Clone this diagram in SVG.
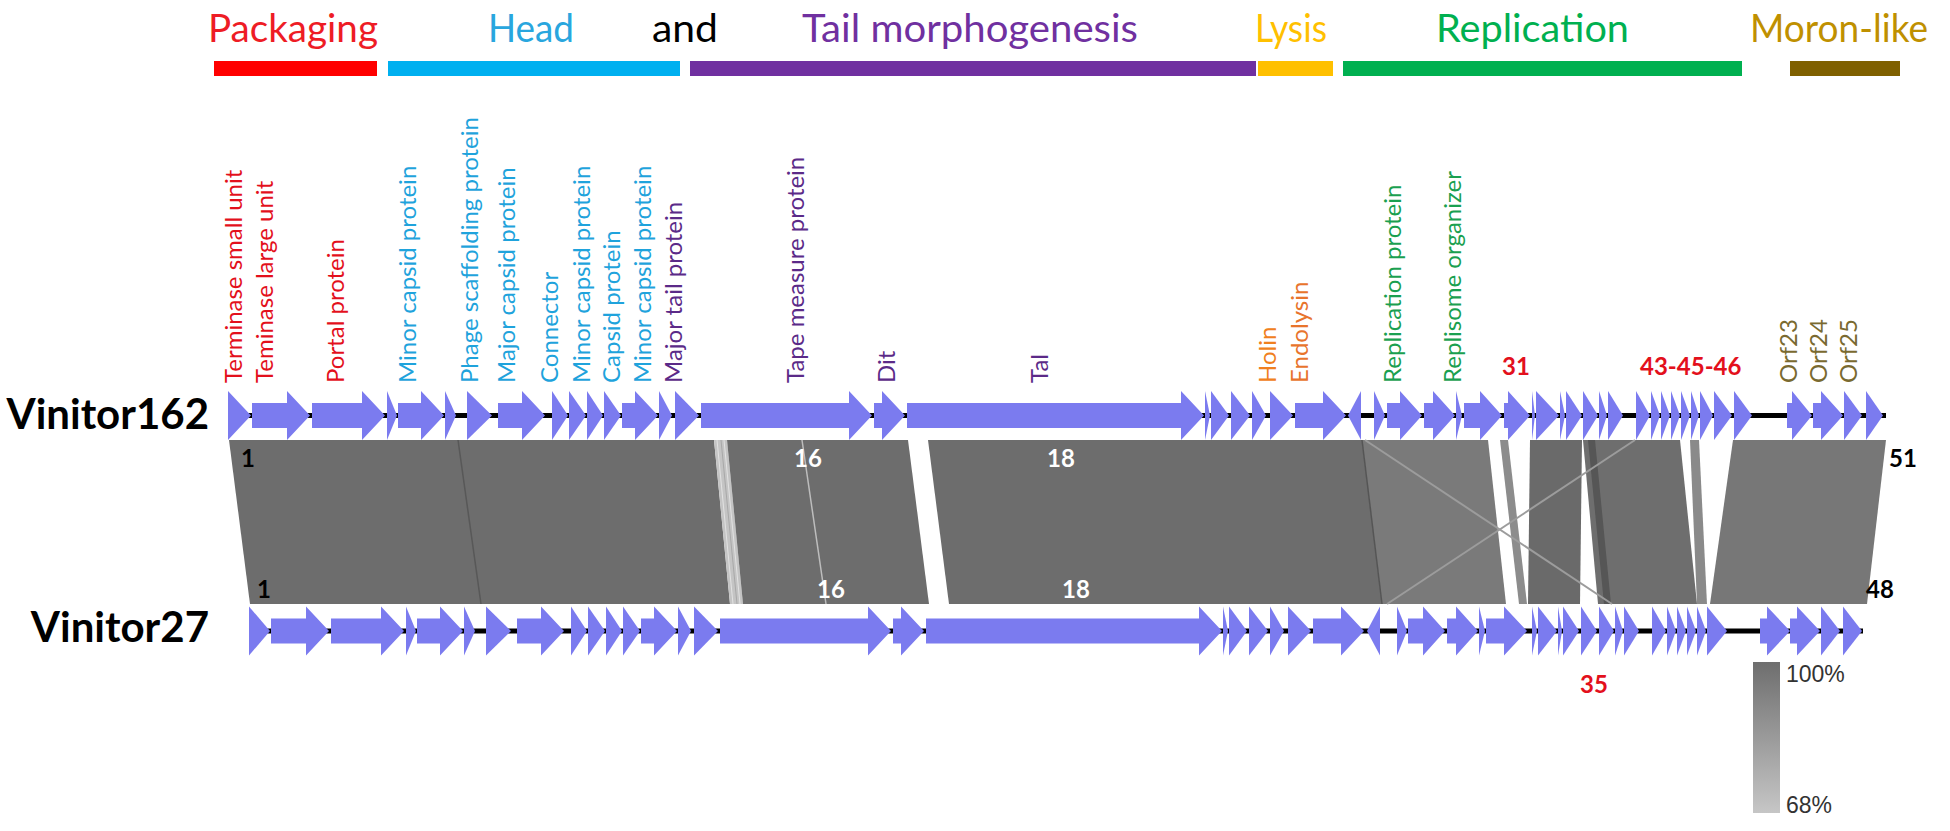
<svg xmlns="http://www.w3.org/2000/svg" width="1950" height="831" viewBox="0 0 1950 831">
<defs>
<style>
.hd{font-family:Lato,"Open Sans",sans-serif;font-size:39px}
.lb{font-family:Lato,"Open Sans",sans-serif;font-size:24px}
.nm{font-family:Lato,"Open Sans",sans-serif;font-size:42px;font-weight:bold;fill:#000}
.num{font-family:Lato,"Open Sans",sans-serif;font-size:24px;font-weight:bold}
.red{fill:#e3101c}
.g{fill:#7b7bef}
.bb{stroke:#000;stroke-width:5}
.blk{fill:#6d6d6d}
.leg{font-family:"Liberation Sans",Arial,sans-serif;font-size:23px;fill:#333}
</style>
<linearGradient id="lg" x1="0" y1="0" x2="0" y2="1">
<stop offset="0" stop-color="#6e6e6e"/>
<stop offset="1" stop-color="#c6c6c6"/>
</linearGradient>
</defs>
<rect width="1950" height="831" fill="#fff"/>

<g id="header">
<text class="hd" x="208" y="42" textLength="170" lengthAdjust="spacingAndGlyphs" fill="#ee1c25">Packaging</text>
<text class="hd" x="488" y="42" textLength="86" lengthAdjust="spacingAndGlyphs" fill="#29a6de">Head</text>
<text class="hd" x="652" y="42" textLength="66" lengthAdjust="spacingAndGlyphs" fill="#000">and</text>
<text class="hd" x="802" y="42" textLength="336" lengthAdjust="spacingAndGlyphs" fill="#7030a0">Tail morphogenesis</text>
<text class="hd" x="1255" y="42" textLength="72" lengthAdjust="spacingAndGlyphs" fill="#ffc000">Lysis</text>
<text class="hd" x="1436" y="42" textLength="193" lengthAdjust="spacingAndGlyphs" fill="#00b050">Replication</text>
<text class="hd" x="1750" y="42" textLength="178" lengthAdjust="spacingAndGlyphs" fill="#bf9000">Moron-like</text>
<rect x="214" y="61" width="163" height="15" fill="#ff0000"/>
<rect x="388" y="61" width="292" height="15" fill="#00b0f0"/>
<rect x="690" y="61" width="566" height="15" fill="#7030a0"/>
<rect x="1258" y="61" width="75" height="15" fill="#ffc000"/>
<rect x="1343" y="61" width="399" height="15" fill="#00b050"/>
<rect x="1790" y="61" width="110" height="15" fill="#7f6000"/>
</g>

<g id="gene-labels" class="lb">
<text transform="translate(242,383) rotate(-90)" fill="#e3101c">Terminase small unit</text>
<text transform="translate(273,383) rotate(-90)" fill="#e3101c">Teminase large unit</text>
<text transform="translate(344,383) rotate(-90)" fill="#e3101c">Portal protein</text>
<text transform="translate(416,383) rotate(-90)" fill="#1fa3dc">Minor capsid protein</text>
<text transform="translate(478,383) rotate(-90)" fill="#1fa3dc">Phage scaffolding protein</text>
<text transform="translate(515,383) rotate(-90)" fill="#1fa3dc">Major capsid protein</text>
<text transform="translate(558,383) rotate(-90)" fill="#1fa3dc">Connector</text>
<text transform="translate(590,383) rotate(-90)" fill="#1fa3dc">Minor capsid protein</text>
<text transform="translate(620,383) rotate(-90)" fill="#1fa3dc">Capsid protein</text>
<text transform="translate(651,383) rotate(-90)" fill="#1fa3dc">Minor capsid protein</text>
<text transform="translate(682,383) rotate(-90)" fill="#5b2a88">Major tail protein</text>
<text transform="translate(804,383) rotate(-90)" fill="#5b2a88">Tape measure protein</text>
<text transform="translate(895,383) rotate(-90)" fill="#5b2a88">Dit</text>
<text transform="translate(1048,383) rotate(-90)" fill="#5b2a88">Tal</text>
<text transform="translate(1276,383) rotate(-90)" fill="#f08020">Holin</text>
<text transform="translate(1308,383) rotate(-90)" fill="#e8742c">Endolysin</text>
<text transform="translate(1401,383) rotate(-90)" fill="#1aa050">Replication protein</text>
<text transform="translate(1461,383) rotate(-90)" fill="#1aa050">Replisome organizer</text>
<text transform="translate(1797,383) rotate(-90)" fill="#7a6a30">Orf23</text>
<text transform="translate(1827,383) rotate(-90)" fill="#7a6a30">Orf24</text>
<text transform="translate(1857,383) rotate(-90)" fill="#7a6a30">Orf25</text>
<text class="num red" x="1502" y="375">31</text>
<text class="num red" x="1640" y="375">43-45-46</text>
<text class="num red" x="1580" y="693">35</text>
</g>

<g id="genome-names">
<text class="nm" x="209" y="429" text-anchor="end">Vinitor162</text>
<text class="nm" x="209" y="642" text-anchor="end">Vinitor27</text>
</g>

<g id="connectors">
<polygon class="blk" points="229,440 714,440 730,604 250,604"/>
<line x1="458" y1="440" x2="481" y2="604" stroke="#585858" stroke-width="1.5"/>
<polygon fill="#c4c4c4" points="714,440 727,440 743,604 730,604"/>
<line x1="717" y1="440" x2="733" y2="604" stroke="#e2e2e2" stroke-width="1"/>
<line x1="721" y1="440" x2="737" y2="604" stroke="#a8a8a8" stroke-width="1"/>
<line x1="724" y1="440" x2="740" y2="604" stroke="#e2e2e2" stroke-width="1"/>
<polygon class="blk" points="727,440 908,440 929,604 743,604"/>
<line x1="802" y1="440" x2="826" y2="604" stroke="#bdbdbd" stroke-width="1.5"/>
<polygon class="blk" points="928,440 1362,440 1382,604 949,604"/>
<polygon fill="#7a7a7a" points="1362,440 1488,440 1506,604 1382,604"/>
<line x1="1362" y1="440" x2="1382" y2="604" stroke="#555" stroke-width="1.5"/>
<polygon fill="#8c8c8c" points="1500,440 1508,440 1527,604 1519,604"/>
<polygon fill="#6a6a6a" points="1530,440 1582,440 1580,604 1528,604"/>
<polygon fill="#6e6e6e" points="1583,440 1680,440 1697,604 1598,604"/>
<polygon fill="#565656" points="1588,440 1595,440 1611,604 1604,604"/>
<polygon fill="#8a8a8a" points="1690,440 1699,440 1707,604 1697,604"/>
<polygon fill="#777" points="1733,440 1886,440 1867,604 1710,604"/>
<line x1="1365" y1="440" x2="1612" y2="604" stroke="#9c9c9c" stroke-width="2"/>
<line x1="1635" y1="440" x2="1387" y2="604" stroke="#9c9c9c" stroke-width="2"/>
<text class="num" x="241" y="467" fill="#000">1</text>
<text class="num" x="808" y="467" fill="#fff" text-anchor="middle">16</text>
<text class="num" x="1061" y="467" fill="#fff" text-anchor="middle">18</text>
<text class="num" x="1889" y="467" fill="#000">51</text>
<text class="num" x="257" y="598" fill="#000">1</text>
<text class="num" x="831" y="598" fill="#fff" text-anchor="middle">16</text>
<text class="num" x="1076" y="598" fill="#fff" text-anchor="middle">18</text>
<text class="num" x="1866" y="598" fill="#000">48</text>
</g>

<g id="Vinitor162-genes" transform="translate(0,415.5)">
<line class="bb" x1="228" y1="0" x2="1886" y2="0"/>
<polygon class="g" id="t1" points="228,-24.5 251,0 228,24.5"/>
<polygon class="g" id="t2" points="252,-12.5 287,-12.5 287,-24.5 310,0 287,24.5 287,12.5 252,12.5"/>
<polygon class="g" id="t3" points="312,-12.5 362,-12.5 362,-24.5 385,0 362,24.5 362,12.5 312,12.5"/>
<polygon class="g" id="t4" points="387,-24.5 397,0 387,24.5"/>
<polygon class="g" id="t5" points="398,-12.5 421,-12.5 421,-24.5 444,0 421,24.5 421,12.5 398,12.5"/>
<polygon class="g" id="t6" points="445,-24.5 456,0 445,24.5"/>
<polygon class="g" id="t7" points="467,-24.5 492,0 467,24.5"/>
<polygon class="g" id="t8" points="498,-12.5 522,-12.5 522,-24.5 545,0 522,24.5 522,12.5 498,12.5"/>
<polygon class="g" id="t9" points="552,-24.5 568,0 552,24.5"/>
<polygon class="g" id="t10" points="569,-24.5 586,0 569,24.5"/>
<polygon class="g" id="t11" points="587,-24.5 603,0 587,24.5"/>
<polygon class="g" id="t12" points="604,-24.5 621,0 604,24.5"/>
<polygon class="g" id="t13" points="622,-12.5 635,-12.5 635,-24.5 658,0 635,24.5 635,12.5 622,12.5"/>
<polygon class="g" id="t14" points="659,-24.5 672,0 659,24.5"/>
<polygon class="g" id="t15" points="675,-24.5 699,0 675,24.5"/>
<polygon class="g" id="t16" points="701,-12.5 849,-12.5 849,-24.5 872,0 849,24.5 849,12.5 701,12.5"/>
<polygon class="g" id="t17" points="874,-12.5 882,-12.5 882,-24.5 905,0 882,24.5 882,12.5 874,12.5"/>
<polygon class="g" id="t18" points="907,-12.5 1181,-12.5 1181,-24.5 1204,0 1181,24.5 1181,12.5 907,12.5"/>
<polygon class="g" id="t19" points="1205,-24.5 1210,0 1205,24.5"/>
<polygon class="g" id="t20" points="1211,-24.5 1229,0 1211,24.5"/>
<polygon class="g" id="t21" points="1231,-24.5 1250,0 1231,24.5"/>
<polygon class="g" id="t22" points="1252,-24.5 1266,0 1252,24.5"/>
<polygon class="g" id="t23" points="1270,-24.5 1293,0 1270,24.5"/>
<polygon class="g" id="t24" points="1295,-12.5 1323,-12.5 1323,-24.5 1346,0 1323,24.5 1323,12.5 1295,12.5"/>
<polygon class="g" id="t25" points="1361,-24.5 1348,0 1361,24.5"/>
<polygon class="g" id="t26" points="1374,-24.5 1385,0 1374,24.5"/>
<polygon class="g" id="t27" points="1387,-12.5 1400,-12.5 1400,-24.5 1422,0 1400,24.5 1400,12.5 1387,12.5"/>
<polygon class="g" id="t28" points="1424,-12.5 1433,-12.5 1433,-24.5 1455,0 1433,24.5 1433,12.5 1424,12.5"/>
<polygon class="g" id="t29" points="1456,-24.5 1462,0 1456,24.5"/>
<polygon class="g" id="t30" points="1464,-12.5 1480,-12.5 1480,-24.5 1502,0 1480,24.5 1480,12.5 1464,12.5"/>
<polygon class="g" id="t31" points="1504,-12.5 1508,-12.5 1508,-24.5 1530,0 1508,24.5 1508,12.5 1504,12.5"/>
<polygon class="g" id="t32" points="1532,-24.5 1535,0 1532,24.5"/>
<polygon class="g" id="t33" points="1536,-24.5 1559,0 1536,24.5"/>
<polygon class="g" id="t34" points="1560,-24.5 1565,0 1560,24.5"/>
<polygon class="g" id="t35" points="1566,-24.5 1582,0 1566,24.5"/>
<polygon class="g" id="t36" points="1583,-24.5 1598,0 1583,24.5"/>
<polygon class="g" id="t37" points="1599,-24.5 1607,0 1599,24.5"/>
<polygon class="g" id="t38" points="1608,-24.5 1623,0 1608,24.5"/>
<polygon class="g" id="t39" points="1636,-24.5 1650,0 1636,24.5"/>
<polygon class="g" id="t40" points="1651,-24.5 1660,0 1651,24.5"/>
<polygon class="g" id="t41" points="1661,-24.5 1670,0 1661,24.5"/>
<polygon class="g" id="t42" points="1671,-24.5 1680,0 1671,24.5"/>
<polygon class="g" id="t43" points="1681,-24.5 1690,0 1681,24.5"/>
<polygon class="g" id="t44" points="1691,-24.5 1699,0 1691,24.5"/>
<polygon class="g" id="t45" points="1700,-24.5 1713,0 1700,24.5"/>
<polygon class="g" id="t46" points="1714,-24.5 1732,0 1714,24.5"/>
<polygon class="g" id="t47" points="1734,-24.5 1752,0 1734,24.5"/>
<polygon class="g" id="t48" points="1787,-12.5 1792,-12.5 1792,-24.5 1812,0 1792,24.5 1792,12.5 1787,12.5"/>
<polygon class="g" id="t49" points="1813,-12.5 1821,-12.5 1821,-24.5 1843,0 1821,24.5 1821,12.5 1813,12.5"/>
<polygon class="g" id="t50" points="1844,-24.5 1862,0 1844,24.5"/>
<polygon class="g" id="t51" points="1866,-24.5 1883,0 1866,24.5"/>
</g>

<g id="Vinitor27-genes" transform="translate(0,631)">
<line class="bb" x1="249" y1="0" x2="1863" y2="0"/>
<polygon class="g" id="b1" points="249,-24.5 270,0 249,24.5"/>
<polygon class="g" id="b2" points="271,-12.5 306,-12.5 306,-24.5 329,0 306,24.5 306,12.5 271,12.5"/>
<polygon class="g" id="b3" points="331,-12.5 381,-12.5 381,-24.5 404,0 381,24.5 381,12.5 331,12.5"/>
<polygon class="g" id="b4" points="406,-24.5 416,0 406,24.5"/>
<polygon class="g" id="b5" points="417,-12.5 440,-12.5 440,-24.5 463,0 440,24.5 440,12.5 417,12.5"/>
<polygon class="g" id="b6" points="464,-24.5 475,0 464,24.5"/>
<polygon class="g" id="b7" points="486,-24.5 511,0 486,24.5"/>
<polygon class="g" id="b8" points="517,-12.5 541,-12.5 541,-24.5 564,0 541,24.5 541,12.5 517,12.5"/>
<polygon class="g" id="b9" points="571,-24.5 587,0 571,24.5"/>
<polygon class="g" id="b10" points="588,-24.5 605,0 588,24.5"/>
<polygon class="g" id="b11" points="606,-24.5 622,0 606,24.5"/>
<polygon class="g" id="b12" points="623,-24.5 640,0 623,24.5"/>
<polygon class="g" id="b13" points="641,-12.5 654,-12.5 654,-24.5 677,0 654,24.5 654,12.5 641,12.5"/>
<polygon class="g" id="b14" points="678,-24.5 691,0 678,24.5"/>
<polygon class="g" id="b15" points="694,-24.5 718,0 694,24.5"/>
<polygon class="g" id="b16" points="720,-12.5 868,-12.5 868,-24.5 891,0 868,24.5 868,12.5 720,12.5"/>
<polygon class="g" id="b17" points="893,-12.5 901,-12.5 901,-24.5 924,0 901,24.5 901,12.5 893,12.5"/>
<polygon class="g" id="b18" points="926,-12.5 1199,-12.5 1199,-24.5 1222,0 1199,24.5 1199,12.5 926,12.5"/>
<polygon class="g" id="b19" points="1223,-24.5 1228,0 1223,24.5"/>
<polygon class="g" id="b20" points="1229,-24.5 1247,0 1229,24.5"/>
<polygon class="g" id="b21" points="1249,-24.5 1268,0 1249,24.5"/>
<polygon class="g" id="b22" points="1270,-24.5 1284,0 1270,24.5"/>
<polygon class="g" id="b23" points="1288,-24.5 1311,0 1288,24.5"/>
<polygon class="g" id="b24" points="1313,-12.5 1341,-12.5 1341,-24.5 1364,0 1341,24.5 1341,12.5 1313,12.5"/>
<polygon class="g" id="b25" points="1380,-24.5 1367,0 1380,24.5"/>
<polygon class="g" id="b26" points="1397,-24.5 1407,0 1397,24.5"/>
<polygon class="g" id="b27" points="1408,-12.5 1423,-12.5 1423,-24.5 1445,0 1423,24.5 1423,12.5 1408,12.5"/>
<polygon class="g" id="b28" points="1447,-12.5 1456,-12.5 1456,-24.5 1478,0 1456,24.5 1456,12.5 1447,12.5"/>
<polygon class="g" id="b29" points="1479,-24.5 1485,0 1479,24.5"/>
<polygon class="g" id="b30" points="1486,-12.5 1504,-12.5 1504,-24.5 1527,0 1504,24.5 1504,12.5 1486,12.5"/>
<polygon class="g" id="b31" points="1532,-24.5 1537,0 1532,24.5"/>
<polygon class="g" id="b32" points="1538,-24.5 1557,0 1538,24.5"/>
<polygon class="g" id="b33" points="1558,-24.5 1562,0 1558,24.5"/>
<polygon class="g" id="b34" points="1563,-24.5 1579,0 1563,24.5"/>
<polygon class="g" id="b35" points="1581,-24.5 1597,0 1581,24.5"/>
<polygon class="g" id="b36" points="1599,-24.5 1614,0 1599,24.5"/>
<polygon class="g" id="b37" points="1615,-24.5 1623,0 1615,24.5"/>
<polygon class="g" id="b38" points="1624,-24.5 1639,0 1624,24.5"/>
<polygon class="g" id="b39" points="1652,-24.5 1666,0 1652,24.5"/>
<polygon class="g" id="b40" points="1667,-24.5 1676,0 1667,24.5"/>
<polygon class="g" id="b41" points="1677,-24.5 1686,0 1677,24.5"/>
<polygon class="g" id="b42" points="1687,-24.5 1696,0 1687,24.5"/>
<polygon class="g" id="b43" points="1697,-24.5 1706,0 1697,24.5"/>
<polygon class="g" id="b44" points="1707,-24.5 1727,0 1707,24.5"/>
<polygon class="g" id="b45" points="1760,-12.5 1767,-12.5 1767,-24.5 1790,0 1767,24.5 1767,12.5 1760,12.5"/>
<polygon class="g" id="b46" points="1790,-12.5 1797,-12.5 1797,-24.5 1820,0 1797,24.5 1797,12.5 1790,12.5"/>
<polygon class="g" id="b47" points="1821,-24.5 1840,0 1821,24.5"/>
<polygon class="g" id="b48" points="1843,-24.5 1862,0 1843,24.5"/>
</g>

<g id="legend">
<rect x="1753" y="662" width="27" height="151" fill="url(#lg)"/>
<text class="leg" x="1786" y="682">100%</text>
<text class="leg" x="1786" y="813">68%</text>
</g>
</svg>
